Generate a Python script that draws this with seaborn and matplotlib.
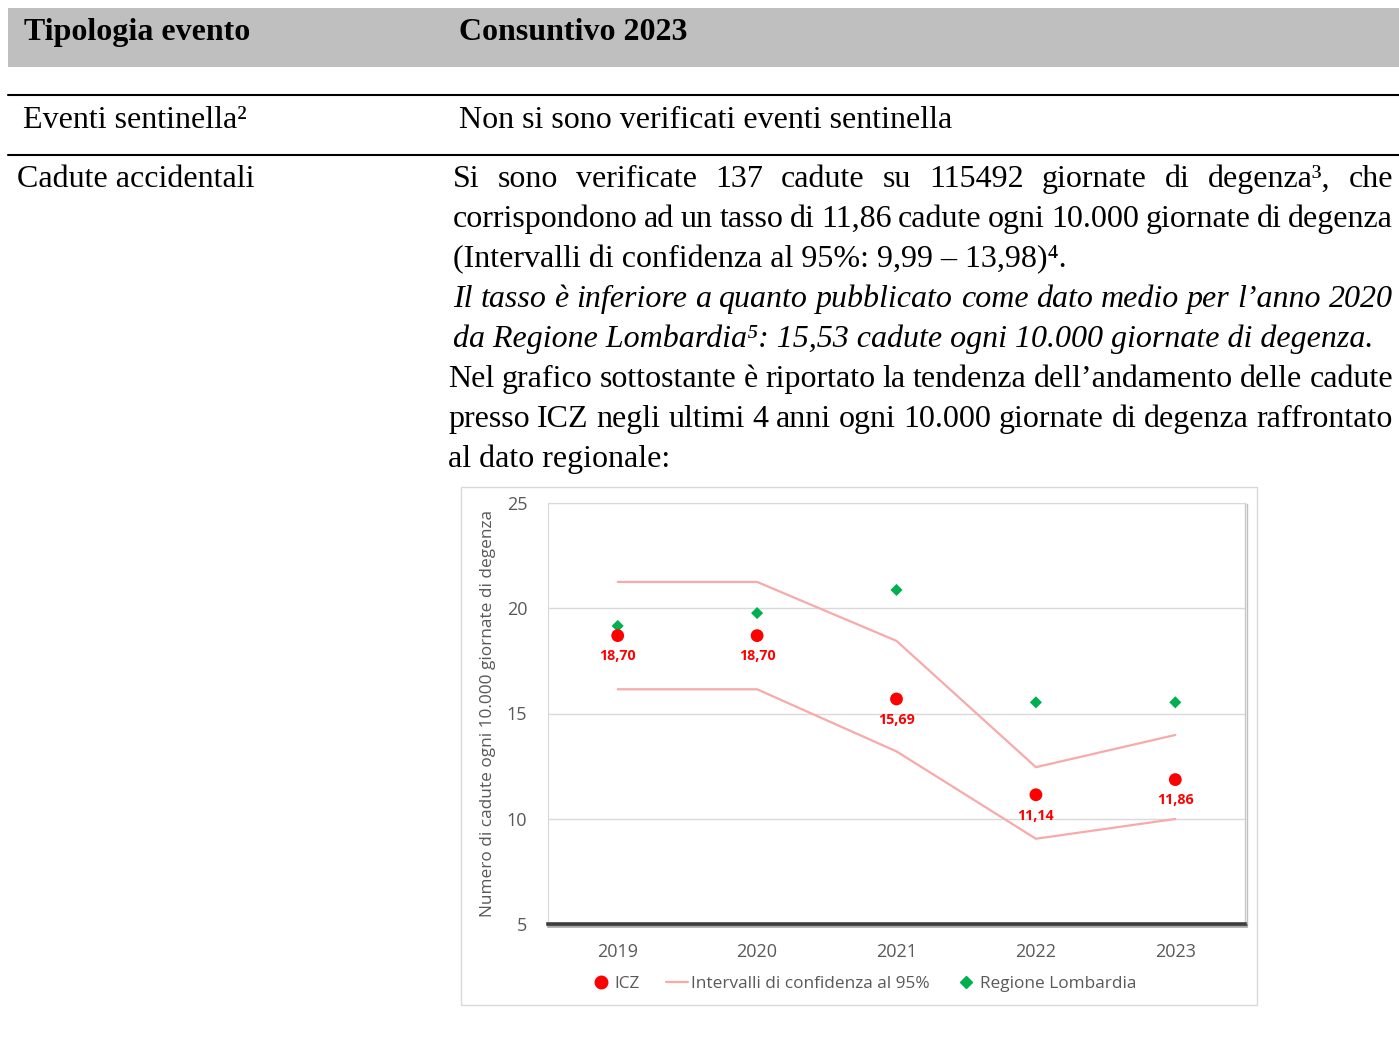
import numpy as np
import pandas as pd
import matplotlib
matplotlib.use("Agg")
import matplotlib.pyplot as plt
import matplotlib.patheffects as pe
from matplotlib.lines import Line2D
from matplotlib.patches import Rectangle
from matplotlib.transforms import IdentityTransform
import seaborn as sns

W, H = 1399, 1058

# chart data
years = [2019, 2020, 2021, 2022, 2023]
icz = [18.70, 18.70, 15.69, 11.14, 11.86]
icz_labels = ["18,70", "18,70", "15,69", "11,14", "11,86"]
regione = [19.16, 19.77, 20.87, 15.53, 15.53]
ci_upper = [21.25, 21.25, 18.45, 12.45, 13.98]
ci_lower = [16.15, 16.15, 13.20, 9.05, 9.99]
y_ticks = [5, 10, 15, 20, 25]
legend_labels = ["ICZ", "Intervalli di confidenza al 95%", "Regione Lombardia"]

sns.set_style("white")
plt.rcParams["font.family"] = ["Open Sans", "DejaVu Sans"]

RED = "#ff0000"
GREEN = "#00b050"
PINK = "#f8a9a9"
GREY_TXT = "#595959"
SERIF = ["Liberation Serif", "DejaVu Serif"]

fig = plt.figure(figsize=(W / 100, H / 100), dpi=100)
fig.patch.set_facecolor("white")
renderer = fig.canvas.get_renderer()
px = IdentityTransform()


def put(x, y, s, **kw):
    # y measured from the top of the page, text sits on its baseline
    return fig.text(x, H - y, s, transform=px, va="baseline", ha="left",
                    family=SERIF, fontsize=23, color="black", **kw)


def text_line(s, x0, x1, y, justify=True, **kw):
    if not justify:
        put(x0, y, s, **kw)
        return
    words = s.split()
    arts = [put(0, y, w, **kw) for w in words]
    widths = [a.get_window_extent(renderer).width for a in arts]
    gap = (x1 - x0 - sum(widths)) / (len(words) - 1)
    x = x0
    for a, w in zip(arts, widths):
        a.set_x(x)
        x += w + gap


# --- table part of the page ---
fig.add_artist(Rectangle((8, H - 67), W - 8, 59, transform=px,
                         facecolor="#bfbfbf", edgecolor="none"))
for yy in (94.5, 155):
    fig.add_artist(Line2D([8, W], [H - yy, H - yy], transform=px,
                          color="black", lw=1.5))

put(24, 40, "Tipologia evento", weight="bold")
put(459, 40, "Consuntivo 2023", weight="bold")
put(23, 128, "Eventi sentinella\u00b2")
put(459, 128, "Non si sono verificati eventi sentinella")
put(17, 187, "Cadute accidentali")

text_line("Si sono verificate 137 cadute su 115492 giornate di degenza\u00b3, che",
          453, 1393, 187)
text_line("corrispondono ad un tasso di 11,86 cadute ogni 10.000 giornate di degenza",
          453, 1393, 227)
text_line("(Intervalli di confidenza al 95%: 9,99 \u2013 13,98)\u2074.",
          453, 1393, 267, justify=False)
text_line("Il tasso è inferiore  a quanto pubblicato come dato medio per l\u2019anno 2020",
          453, 1393, 307, style="italic")
text_line("da Regione Lombardia\u2075: 15,53 cadute ogni 10.000 giornate di degenza.",
          453, 1393, 347, justify=False, style="italic")
text_line("Nel grafico sottostante è riportato la tendenza dell\u2019andamento delle cadute",
          448, 1393, 387)
text_line("presso ICZ negli ultimi 4 anni ogni 10.000 giornate di degenza raffrontato",
          448, 1393, 427)
text_line("al dato regionale:", 448, 1393, 467, justify=False)

# --- chart ---
fig.add_artist(Rectangle((461, H - 1005), 796, 518, transform=px,
                         facecolor="none", edgecolor="#d9d9d9", lw=1))

ax = fig.add_axes([548 / W, 1 - 924 / H, 697 / W, 421 / H])

df = pd.DataFrame({"anno": years, "icz": icz, "regione": regione,
                   "ci_upper": ci_upper, "ci_lower": ci_lower})

sns.lineplot(data=df, x="anno", y="ci_upper", color=PINK, lw=1.6, ax=ax)
sns.lineplot(data=df, x="anno", y="ci_lower", color=PINK, lw=1.6, ax=ax)
sns.scatterplot(data=df, x="anno", y="regione", marker="D", s=38,
                color=GREEN, edgecolor="none", ax=ax, zorder=4)
sns.scatterplot(data=df, x="anno", y="icz", marker="o", s=85,
                color=RED, edgecolor="none", ax=ax, zorder=5)

for x, v, lab in zip(years, icz, icz_labels):
    ax.annotate(lab, (x, v), xytext=(0, -15), textcoords="offset points",
                ha="center", va="center", color=RED, fontsize=10.3,
                weight="bold")

ax.set_xlim(years[0] - 0.5, years[-1] + 0.5)
ax.set_ylim(y_ticks[0], y_ticks[-1])
ax.set_xticks(years)
ax.set_yticks(y_ticks)
ax.set_xlabel("")
ax.set_ylabel("Numero di cadute ogni 10.000 giornate di degenza",
              fontsize=12.4, color=GREY_TXT, va="center")
ax.yaxis.set_label_coords((488 - 548) / 697, 0.5)
ax.tick_params(length=0, colors=GREY_TXT, labelsize=13)
ax.tick_params(axis="y", pad=15)
ax.tick_params(axis="x", pad=14)

ax.yaxis.grid(True, color="#d9d9d9", lw=1)
ax.set_axisbelow(True)

for side in ("left", "top"):
    ax.spines[side].set_color("#d9d9d9")
    ax.spines[side].set_linewidth(0.8)
ax.spines["right"].set_color("#c8c8c8")
ax.spines["right"].set_linewidth(1)
ax.spines["right"].set_path_effects([pe.SimpleLineShadow(offset=(1.5, -1), alpha=0.25), pe.Normal()])
ax.spines["bottom"].set_color("#3d3d3d")
ax.spines["bottom"].set_linewidth(2.6)
ax.spines["bottom"].set_path_effects([pe.SimpleLineShadow(offset=(1, -1.5), alpha=0.35), pe.Normal()])

handles = [
    Line2D([], [], marker="o", ls="none", color=RED, markersize=9),
    Line2D([], [], color=PINK, lw=1.6),
    Line2D([], [], marker="D", ls="none", color=GREEN, markersize=6),
]
ax.legend(handles, legend_labels, loc="center", ncol=3, frameon=False,
          bbox_to_anchor=(863 / W, 1 - 984 / H), bbox_transform=fig.transFigure,
          fontsize=12.4, labelcolor=GREY_TXT, handlelength=1.3,
          handletextpad=0.15, columnspacing=1.5)

fig.savefig("out.png", dpi=100, facecolor="white")
